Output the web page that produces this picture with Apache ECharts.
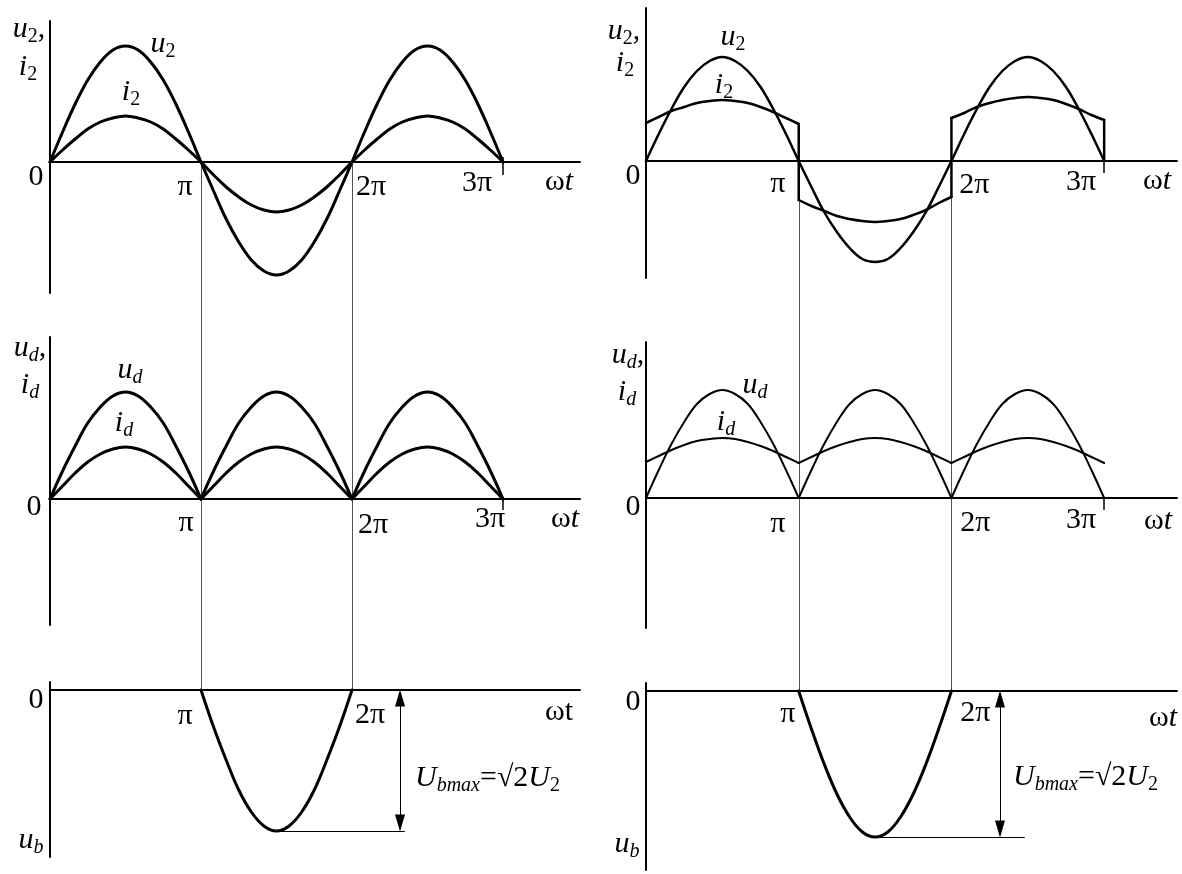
<!DOCTYPE html>
<html>
<head>
<meta charset="utf-8">
<script src="https://cdn.jsdelivr.net/npm/echarts@6/dist/echarts.min.js"></script>
<style>
html,body{margin:0;padding:0;background:#fff;}
#c{width:1182px;height:874px;}
</style>
</head>
<body>
<div id="c"></div>
<script>
// ---------------- DATA ----------------
// x is in multiples of pi, samples every pi/12; y values are in drawing units
const tickValues = [0, 1, 2, 3];
const tickLabels = ['0', 'π', '2π', '3π'];
const sampleStep = 1 / 12;

// resistive load (left column)
const u2Left = [0, 30, 58, 82, 100, 112, 116, 112, 100, 82, 58, 30,
                0, -29, -57, -80, -98, -109, -113, -109, -98, -80, -57, -29,
                0, 30, 58, 82, 100, 112, 116, 112, 100, 82, 58, 30, 0];
const i2Left = [0, 12, 23, 33, 40, 44, 46, 44, 40, 33, 23, 12,
                0, -13, -25, -35, -43, -48, -50, -48, -43, -35, -25, -13,
                0, 12, 23, 33, 40, 44, 46, 44, 40, 33, 23, 12, 0];
const udLeft = [0, 28, 53, 76, 92, 103, 107, 103, 92, 76, 53, 28,
                0, 28, 53, 76, 92, 103, 107, 103, 92, 76, 53, 28,
                0, 28, 53, 76, 92, 103, 107, 103, 92, 76, 53, 28, 0];
const idLeft = [0, 13, 26, 37, 45, 50, 52, 50, 45, 37, 26, 13,
                0, 13, 26, 37, 45, 50, 52, 50, 45, 37, 26, 13,
                0, 13, 26, 37, 45, 50, 52, 50, 45, 37, 26, 13, 0];
const ubLeft = [0, -37, -70, -100, -122, -136, -141, -136, -122, -100, -70, -37, 0]; // pi .. 2pi
const ubLeftMax = -141;

// inductive load (right column)
const u2Right = [0, 27, 52, 74, 90, 100, 104, 100, 90, 74, 52, 27,
                 0, -26, -51, -71, -87, -98, -101, -98, -87, -71, -51, -26,
                 0, 27, 52, 74, 90, 100, 104, 100, 90, 74, 52, 27, 0];
const i2RightArc1 = [38, 44, 50, 54, 58, 60, 61, 60, 58, 54, 49, 43, 37];            // 0 .. pi
const i2RightArc2 = [-39, -45, -50, -55, -58, -60, -61, -60, -58, -54, -49, -42, -36]; // pi .. 2pi
const i2RightArc3 = [43, 48, 54, 58, 61, 63, 64, 63, 61, 57, 52, 46, 41];            // 2pi .. 3pi
const udRight = [0, 28, 54, 76, 94, 104, 108, 104, 94, 76, 54, 28,
                 0, 28, 54, 76, 94, 104, 108, 104, 94, 76, 54, 28,
                 0, 28, 54, 76, 94, 104, 108, 104, 94, 76, 54, 28, 0];
const idRight = [36, 42, 48, 53, 57, 59, 60, 59, 56, 52, 47, 41,
                 35, 41, 47, 52, 56, 59, 60, 59, 56, 52, 47, 41,
                 35, 41, 47, 52, 56, 59, 60, 59, 56, 52, 47, 41, 35];
const ubRight = [0, -38, -73, -103, -126, -141, -146, -141, -126, -103, -73, -38, 0]; // pi .. 2pi
const ubRightMax = -146;

// ---------------- helpers ----------------
const FONT = '"Liberation Serif","Times New Roman",serif';
const PER_HALF = 12;
function pts(vals, x0) { return vals.map((v, k) => [x0 + k * sampleStep, v]); }
function halves(vals) {
  return [0, 1, 2].map(h => pts(vals.slice(h * PER_HALF, h * PER_HALF + PER_HALF + 1), h));
}
function line(g, data, w, smooth, extra) {
  return Object.assign({
    type: 'line', xAxisIndex: g, yAxisIndex: g, data: data,
    smooth: smooth ? 0.4 : false, showSymbol: false, symbol: 'none', silent: true,
    animation: false, z: 3,
    lineStyle: { color: '#000', width: w, cap: 'round', join: 'round' }
  }, extra || {});
}
function tickMark(top, bottom) {
  return {
    silent: true, symbol: 'none', animation: false, label: { show: false },
    lineStyle: { color: '#000', width: 1.5, type: 'solid' },
    data: [[{ coord: [3, top] }, { coord: [3, bottom] }]]
  };
}
function arrowMark(xArrow, yMax, xLineEnd) {
  return {
    silent: true, animation: false, label: { show: false },
    symbol: ['triangle', 'triangle'], symbolSize: [10, 17],
    lineStyle: { color: '#000', width: 1, type: 'solid' },
    data: [
      [{ coord: [xArrow, -8] }, { coord: [xArrow, yMax + 8] }],
      [{ coord: [1.5, yMax], symbol: 'none' }, { coord: [xLineEnd, yMax], symbol: 'none' }]
    ]
  };
}

// ---------------- layout ----------------
const grids = [
  { left: 50,  top: 21,  width: 530, height: 272 },  // top-left
  { left: 646, top: 8,   width: 531, height: 270 },  // top-right
  { left: 50,  top: 337, width: 530, height: 288 },  // mid-left
  { left: 646, top: 342, width: 531, height: 286 },  // mid-right
  { left: 50,  top: 682, width: 530, height: 175 },  // bottom-left
  { left: 646, top: 683, width: 531, height: 187 }   // bottom-right
];
const yRanges = [[-131, 141], [-117, 153], [-126, 162], [-130, 156], [-167, 8], [-179, 8]];
const xMax = [3.51, 3.477, 3.51, 3.477, 3.51, 3.477];

const xAxes = grids.map((g, i) => ({
  type: 'value', gridIndex: i, min: 0, max: xMax[i],
  axisLine: { show: true, onZero: true, lineStyle: { color: '#000', width: 2 } },
  axisTick: { show: false }, axisLabel: { show: false }, splitLine: { show: false }
}));
const yAxes = grids.map((g, i) => ({
  type: 'value', gridIndex: i, min: yRanges[i][0], max: yRanges[i][1],
  axisLine: { show: true, onZero: false, lineStyle: { color: '#000', width: 2 } },
  axisTick: { show: false }, axisLabel: { show: false }, splitLine: { show: false }
}));

const series = [];
// top-left
series.push(line(0, pts(u2Left, 0), 3, true, { markLine: tickMark(5, -13) }));
series.push(line(0, pts(i2Left, 0), 3, true));
// top-right
series.push(line(1, pts(u2Right, 0), 2.5, true, { markLine: tickMark(0, -12) }));
[i2RightArc1, i2RightArc2, i2RightArc3].forEach((arc, k) => series.push(line(1, pts(arc, k), 2.5, true)));
series.push(line(1, [[1, i2RightArc1[PER_HALF]], [1, i2RightArc2[0]]], 2.5, false));
series.push(line(1, [[2, i2RightArc2[PER_HALF]], [2, i2RightArc3[0]]], 2.5, false));
series.push(line(1, [[3, i2RightArc3[PER_HALF]], [3, 0]], 2.5, false));
// mid-left
halves(udLeft).forEach((d, k) => series.push(line(2, d, 3, true, k === 2 ? { markLine: tickMark(0, -11) } : {})));
halves(idLeft).forEach(d => series.push(line(2, d, 3, true)));
// mid-right
halves(udRight).forEach((d, k) => series.push(line(3, d, 2, true, k === 2 ? { markLine: tickMark(0, -12) } : {})));
halves(idRight).forEach(d => series.push(line(3, d, 2, true)));
// bottom
series.push(line(4, pts(ubLeft, 1), 3, true, { markLine: arrowMark(2.318, ubLeftMax, 2.35) }));
series.push(line(5, pts(ubRight, 1), 3, true, { markLine: arrowMark(2.318, ubRightMax, 2.48) }));

const chart = echarts.init(document.getElementById('c'), null, { renderer: 'canvas' });
chart.setOption({
  animation: false,
  backgroundColor: '#fff',
  grid: grids,
  xAxis: xAxes,
  yAxis: yAxes,
  series: series
});

// ---------------- annotations ----------------
const RICH = {
  n:  { fontFamily: FONT, fontSize: 30, lineHeight: 32, fill: '#000' },
  v:  { fontFamily: FONT, fontSize: 30, lineHeight: 32, fontStyle: 'italic', fill: '#000' },
  s:  { fontFamily: FONT, fontSize: 20, lineHeight: 15, padding: [15, 0, 0, 0], fill: '#000' },
  si: { fontFamily: FONT, fontSize: 20, lineHeight: 15, padding: [15, 0, 0, 0], fontStyle: 'italic', fill: '#000' }
};
function px(g, x, y) { return chart.convertToPixel({ gridIndex: g }, [x, y]); }
function txt(g, xv, dx, dy, text, align) {
  const p = px(g, xv, 0);
  const a = align || 'center';
  return {
    type: 'text', x: p[0] + dx, y: p[1] + dy, z: 100, silent: true,
    style: { text: text, rich: RICH, align: a, verticalAlign: 'middle',
             textAlign: a, textVerticalAlign: 'middle', fill: '#000',
             font: '30px ' + FONT }
  };
}
const tk = i => '{n|' + tickLabels[i] + '}';
// [grid, anchor x, dx, dy, text, align]
const labelSpecs = [
  // top-left
  [0, tickValues[0], -14, 15, tk(0)], [0, tickValues[1], -16, 25, tk(1)],
  [0, tickValues[2], 19, 25, tk(2)], [0, tickValues[3], -26, 21, tk(3)],
  [0, 3, 56, 20, '{n|ω}{v|t}'],
  [0, 0, -21, -133, '{v|u}{s|2}{n|,}'], [0, 0, -22, -95, '{v|i}{s|2}'],
  [0, 0, 113, -118, '{v|u}{s|2}'], [0, 0, 81, -70, '{v|i}{s|2}'],
  // top-right
  [1, tickValues[0], -13, 15, tk(0)], [1, tickValues[1], -21, 23, tk(1)],
  [1, tickValues[2], 23, 24, tk(2)], [1, tickValues[3], -23, 21, tk(3)],
  [1, 3, 53, 20, '{n|ω}{v|t}'],
  [1, 0, -22, -130, '{v|u}{s|2}{n|,}'], [1, 0, -21, -98, '{v|i}{s|2}'],
  [1, 0, 87, -124, '{v|u}{s|2}'], [1, 0, 78, -76, '{v|i}{s|2}'],
  // mid-left
  [2, tickValues[0], -16, 8, tk(0)], [2, tickValues[1], -15, 24, tk(1)],
  [2, tickValues[2], 21, 26, tk(2)], [2, tickValues[3], -13, 20, tk(3)],
  [2, 3, 62, 20, '{n|ω}{v|t}'],
  [2, 0, -20, -151, '{v|u}{si|d}{n|,}'], [2, 0, -20, -114, '{v|i}{si|d}'],
  [2, 0, 80, -129, '{v|u}{si|d}'], [2, 0, 74, -76, '{v|i}{si|d}'],
  // mid-right
  [3, tickValues[0], -13, 9, tk(0)], [3, tickValues[1], -21, 26, tk(1)],
  [3, tickValues[2], 24, 25, tk(2)], [3, tickValues[3], -23, 22, tk(3)],
  [3, 3, 54, 23, '{n|ω}{v|t}'],
  [3, 0, -18, -143, '{v|u}{si|d}{n|,}'], [3, 0, -19, -106, '{v|i}{si|d}'],
  [3, 0, 109, -113, '{v|u}{si|d}'], [3, 0, 80, -76, '{v|i}{si|d}'],
  // bottom-left
  [4, tickValues[0], -14, 10, tk(0)], [4, tickValues[1], -16, 26, tk(1)],
  [4, tickValues[2], 18, 25, tk(2)],
  [4, 3, 56, 22, '{n|ωt}'],
  [4, 0, -19, 150, '{v|u}{si|b}'],
  [4, 0, 365, 88, '{v|U}{si|bmax}{n|=√2}{v|U}{s|2}', 'left'],
  // bottom-right
  [5, tickValues[0], -13, 11, tk(0)], [5, tickValues[1], -11, 23, tk(1)],
  [5, tickValues[2], 24, 22, tk(2)],
  [5, 3, 59, 27, '{n|ω}{v|t}'],
  [5, 0, -19, 153, '{v|u}{si|b}'],
  [5, 0, 367, 86, '{v|U}{si|bmax}{n|=√2}{v|U}{s|2}', 'left']
];

const graphics = [];
// thin connector lines at pi and 2pi, from the top axis down to the bottom axis
[[0, 4], [1, 5]].forEach(([gTop, gBot]) => {
  [1, 2].forEach(k => {
    const a = px(gTop, k, 0), b = px(gBot, k, 0);
    graphics.push({
      type: 'line', silent: true, z: 1,
      shape: { x1: Math.round(a[0]) + 0.5, y1: a[1], x2: Math.round(b[0]) + 0.5, y2: b[1] },
      style: { stroke: '#555', lineWidth: 1 }
    });
  });
});
labelSpecs.forEach(s => graphics.push(txt(s[0], s[1], s[2], s[3], s[4], s[5])));

chart.setOption({ graphic: { elements: graphics } });
</script>
</body>
</html>
